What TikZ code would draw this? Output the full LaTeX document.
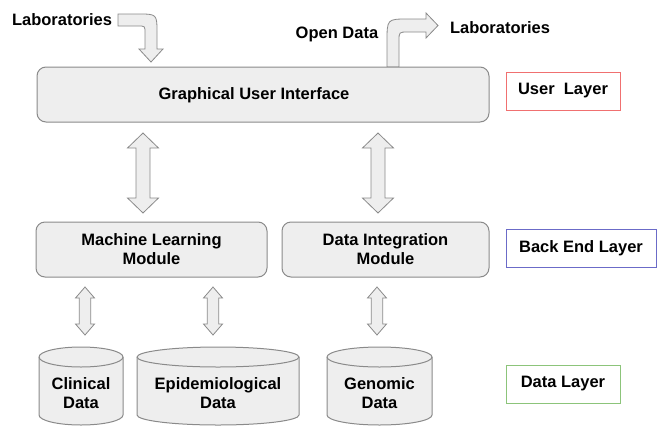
\documentclass[tikz,border=0pt]{standalone}
\usepackage{fontspec}
\setmainfont{Liberation Sans}
\usetikzlibrary{calc}
\definecolor{boxfill}{HTML}{EEEEEE}
\definecolor{boxline}{HTML}{8A8A8A}
\definecolor{redl}{HTML}{F07070}
\definecolor{bluel}{HTML}{6B6BC8}
\definecolor{greenl}{HTML}{8CC47A}
\tikzset{
  lbl/.style={font=\fontsize{16.5}{19}\selectfont\bfseries, inner sep=0pt, align=center},
  modbox/.style={draw=boxline, fill=boxfill, rounded corners=9pt, line width=1pt, inner sep=0pt},
  layerbox/.style={draw=#1, line width=1pt, minimum height=38pt, inner sep=0pt,
    font=\fontsize{16.5}{19}\selectfont\bfseries},
  arr/.style={draw=boxline, fill=boxfill, line width=0.8pt, line join=miter},
  cylst/.style={draw=boxline, fill=boxfill, line width=1pt}
}
% vertical double arrow: #1 top tip, #2 bottom tip, #3 half shaft, #4 half head, #5 head length
\newcommand{\vdarrow}[5]{%
  \draw[arr] (#1) -- ++(#4,#5) -- ++(#3-#4,0) -- ($(#2)+(#3,-#5)$) -- ++(#4-#3,0)
    -- (#2) -- ++(-#4,-#5) -- ++(#4-#3,0) -- ($(#1)+(-#3,#5)$) -- ++(#3-#4,0) -- cycle;}
% cylinder: #1 name, #2 cx, #3 rx, #4 text
\newcommand{\cylinderdb}[4]{%
  \filldraw[cylst] (#2-#3,357) -- (#2-#3,415) arc[start angle=180,end angle=0,x radius=#3,y radius=10]
    -- (#2+#3,357) arc[start angle=0,end angle=-180,x radius=#3,y radius=10] -- cycle;
  \draw[cylst, fill=none] (#2-#3,357) arc[start angle=180,end angle=0,x radius=#3,y radius=10];
  \node[lbl] (#1) at (#2,393) {#4};}
\begin{document}
\begin{tikzpicture}[x=1pt,y=-1pt]
\useasboundingbox (0,0) rectangle (658,426);

% top labels
\node[lbl, anchor=base] (lab1) at (62,25) {Laboratories};
\node[lbl, anchor=base] (open) at (337,38) {Open Data};
\node[lbl, anchor=base] (lab2) at (500,33) {Laboratories};

% bent arrows
\draw[arr] (118,14) -- (138,14) .. controls (157,14) .. (157,33) -- (157,49) -- (163,49)
  -- (151,62) -- (139,49) -- (145,49) -- (145,33) .. controls (145,26) .. (138,26) -- (118,26) -- cycle;
\draw[arr] (387,67) -- (387,42) .. controls (387,19) .. (408,19) -- (426,19) -- (426,13)
  -- (438,25.5) -- (426,38) -- (426,32) -- (408,32) .. controls (399,32) .. (399,41) -- (399,67) -- cycle;

% GUI
\node[modbox, minimum width=452pt, minimum height=55pt] (gui) at (263,94.5) {};
\node[lbl] (guit) at (254,95) {Graphical User Interface};

% modules
\node[modbox, lbl, minimum width=231pt, minimum height=55pt] (ml) at (151.5,249.5) {Machine Learning\\Module};
\node[modbox, lbl, minimum width=207pt, minimum height=55pt] (di) at (385.5,249.5) {Data Integration\\Module};

% layer boxes
\node[layerbox=redl, minimum width=114pt] (ul) at (563,91) {User~~Layer};
\node[layerbox=bluel, minimum width=150pt] (bl) at (581,248) {Back End Layer};
\node[layerbox=greenl, minimum width=114pt] (dl) at (563,384) {Data Layer\hspace{8pt}};

% double arrows GUI <-> modules
\coordinate (a1t) at (143,133); \coordinate (a1b) at (143,213);
\coordinate (a2t) at (378,133); \coordinate (a2b) at (378,213);
\vdarrow{a1t}{a1b}{7}{15.5}{15}
\vdarrow{a2t}{a2b}{7}{15.5}{15}

% double arrows modules <-> data
\coordinate (b1t) at (85,287); \coordinate (b1b) at (85,335);
\coordinate (b2t) at (213,287); \coordinate (b2b) at (213,335);
\coordinate (b3t) at (377,287); \coordinate (b3b) at (377,335);
\vdarrow{b1t}{b1b}{5.7}{9.5}{11}
\vdarrow{b2t}{b2b}{5.7}{9.5}{11}
\vdarrow{b3t}{b3b}{5.7}{9.5}{11}

% databases
\cylinderdb{clin}{81}{42}{Clinical\\Data}
\cylinderdb{epi}{218}{81}{Epidemiological\\Data}
\cylinderdb{gen}{379.5}{52.5}{Genomic\\Data}
\end{tikzpicture}
\end{document}
